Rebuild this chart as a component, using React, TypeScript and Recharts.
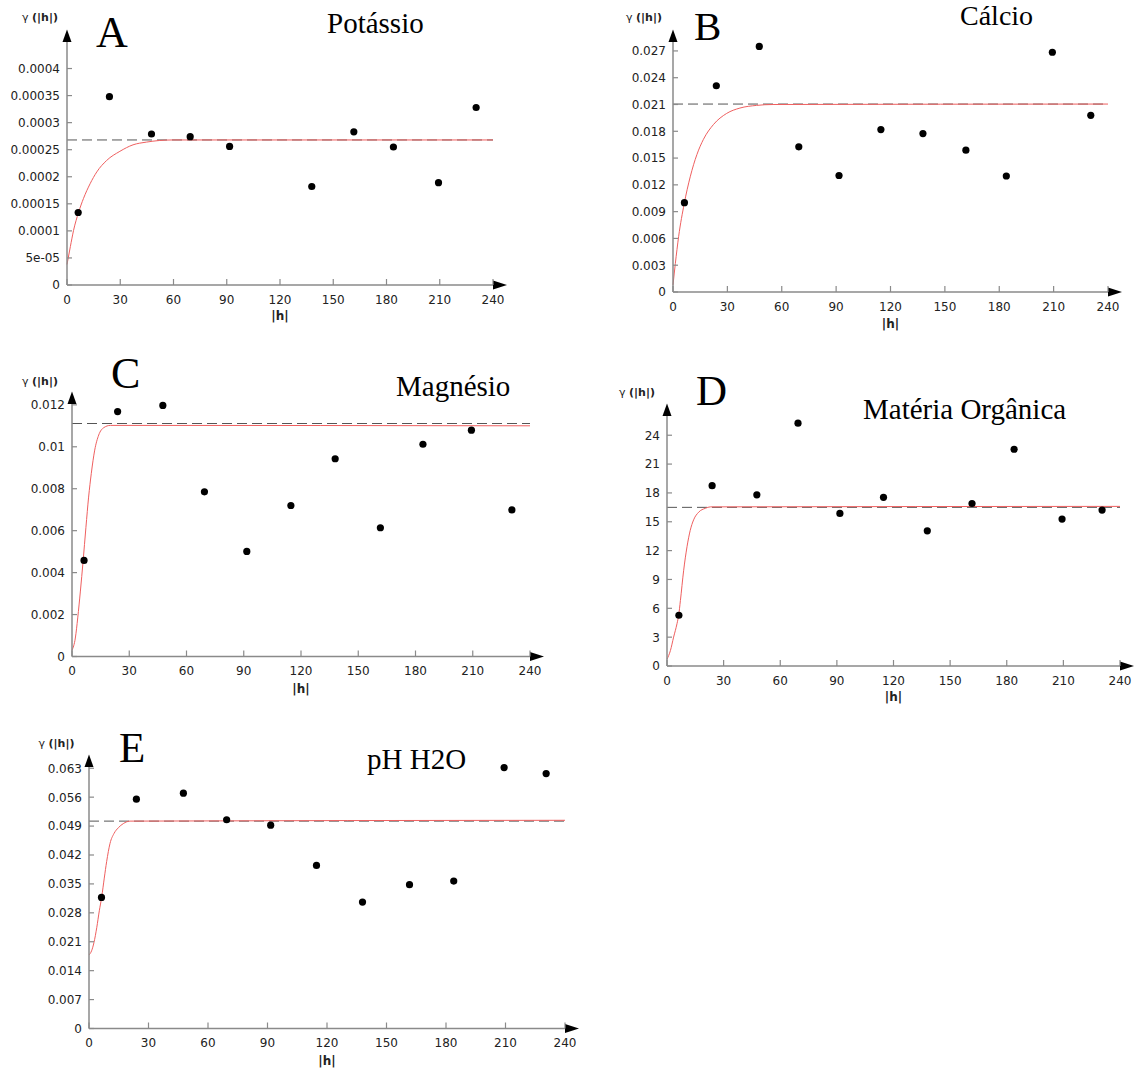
import { ComposedChart, Line, ReferenceDot, ReferenceLine, Scatter, XAxis, YAxis } from "recharts";

// lag classes (m) shared by every semivariogram
const LAGS = [6.3, 23.9, 47.6, 69.4, 91.6, 114.7, 137.9, 161.6, 183.9, 209.3, 230.5];
const H_TICKS = [0, 30, 60, 90, 120, 150, 180, 210, 240];

// Potássio
const K_GAMMA = [0.000134, 0.000348, 0.000279, 0.000274, 0.000256, null, 0.000182, 0.000283, 0.000255, 0.000189, 0.000328];
const K_SILL = 0.000268;
const K_MODEL: [number, number][] = [
  [0, 0.000038], [1.9, 0.000071], [3.7, 0.000101], [6.5, 0.000134], [9.3, 0.00016], [13, 0.000187],
  [16.8, 0.000209], [22.3, 0.00023], [29.8, 0.000247], [37.2, 0.000259], [44.7, 0.000264],
  [52.1, 0.000267], [59.6, 0.000268], [240, 0.000268],
];
const K_TICKS = [0, 0.00005, 0.0001, 0.00015, 0.0002, 0.00025, 0.0003, 0.00035, 0.0004];
const K_TICK_LABELS = ["0", "5e-05", "0.0001", "0.00015", "0.0002", "0.00025", "0.0003", "0.00035", "0.0004"];

// Cálcio
const CA_GAMMA = [0.01, 0.0231, 0.0275, 0.01626, 0.01305, 0.01819, 0.01774, 0.01589, 0.01299, 0.02685, 0.01979];
const CA_SILL = 0.02105;
const CA_MODEL: [number, number][] = [
  [0, 0.0008], [1.3, 0.0032], [3.1, 0.0062], [6.2, 0.0099], [9.5, 0.0129], [13.2, 0.0154],
  [16.8, 0.0171], [22.3, 0.01875], [29.6, 0.02], [36.9, 0.0206], [46.1, 0.0209], [55.2, 0.021],
  [240, 0.02105],
];
const CA_TICKS = [0, 0.003, 0.006, 0.009, 0.012, 0.015, 0.018, 0.021, 0.024, 0.027];
const CA_TICK_LABELS = ["0", "0.003", "0.006", "0.009", "0.012", "0.015", "0.018", "0.021", "0.024", "0.027"];

// Magnésio
const MG_GAMMA = [0.00458, 0.01168, 0.01197, 0.00785, 0.00501, 0.0072, 0.00943, 0.00614, 0.01012, 0.01079, 0.00699];
const MG_SILL = 0.01111;
const MG_MODEL: [number, number][] = [
  [0, 0.0003], [1.75, 0.00088], [3, 0.00184], [4.4, 0.00312], [5.8, 0.00453], [7.3, 0.00616],
  [8.7, 0.0076], [10.1, 0.00872], [11.9, 0.00984], [14, 0.01056], [16.6, 0.01091], [20.1, 0.01102],
  [240, 0.011],
];
const MG_TICKS = [0, 0.002, 0.004, 0.006, 0.008, 0.01, 0.012];
const MG_TICK_LABELS = ["0", "0.002", "0.004", "0.006", "0.008", "0.01", "0.012"];

// Matéria Orgânica
const MO_GAMMA = [5.28, 18.75, 17.8, 25.25, 15.87, 17.54, 14.06, 16.9, 22.54, 15.28, 16.22];
const MO_SILL = 16.5;
const MO_MODEL: [number, number][] = [
  [0, 0.7], [1.8, 1.6], [3.5, 3.0], [5.3, 4.4], [6.2, 5.3], [7.1, 6.8], [8.8, 9.9], [10.6, 12.4],
  [12.3, 14.1], [14.1, 15.2], [16.8, 16.0], [20.3, 16.4], [23, 16.55], [240, 16.6],
];
const MO_TICKS = [0, 3, 6, 9, 12, 15, 18, 21, 24];
const MO_TICK_LABELS = ["0", "3", "6", "9", "12", "15", "18", "21", "24"];

// pH H2O
const PH_GAMMA = [0.03174, 0.0555, 0.05696, 0.05053, 0.04922, 0.03948, 0.0306, 0.03481, 0.03568, 0.06317, 0.06172];
const PH_SILL = 0.0502;
const PH_MODEL: [number, number][] = [
  [0, 0.0178], [1.3, 0.0188], [2.5, 0.0208], [3.9, 0.0244], [5.2, 0.0285], [6.4, 0.0318],
  [7.7, 0.0364], [8.9, 0.0404], [10.6, 0.0448], [12.6, 0.0472], [14.8, 0.0486], [17.3, 0.0496],
  [20.7, 0.0502], [240, 0.0504],
];
const PH_TICKS = [0, 0.007, 0.014, 0.021, 0.028, 0.035, 0.042, 0.049, 0.056, 0.063];
const PH_TICK_LABELS = ["0", "0.007", "0.014", "0.021", "0.028", "0.035", "0.042", "0.049", "0.056", "0.063"];

const AXIS = "#8a8a8a";
const INK = "#222";
const MODEL_RED = "#ef5f5f";
const SANS = "DejaVu Sans";
const SERIF = "Liberation Serif";

const AXW = 70; // room left of the plot for the y labels
const AXH = 40; // room under the plot for the x labels
const TOP = 20;
const RIGHT = 20;

interface Frame {
  x0: number;
  x1: number;
  yTop: number;
  yBottom: number;
  letterX: number;
  letterY: number;
  letterSize: number;
  titleX: number;
  titleY: number;
  titleSize: number;
  gammaX: number;
  gammaY: number;
  hY: number;
}

interface PanelProps {
  letter: string;
  title: string;
  gamma: (number | null)[];
  model: [number, number][];
  sill: number;
  ticks: number[];
  tickLabels: string[];
  yMax: number;
  frame: Frame;
}

// ticks point into the plot, labels sit outside
const XTick = ({ x, y, payload }: any) => (
  <g>
    <line x1={x} x2={x} y1={y} y2={y - 6} stroke={AXIS} strokeWidth={1.2} />
    <text x={x} y={y + 18.5} textAnchor="middle" fontSize={12} fontFamily={SANS} fill={INK}>
      {payload.value}
    </text>
  </g>
);

const makeYTick = (ticks: number[], labels: string[]) => ({ x, y, payload }: any) => (
  <g>
    <line x1={x} x2={x + 5} y1={y} y2={y} stroke={AXIS} strokeWidth={1.2} />
    <text x={x - 7} y={y + 4.4} textAnchor="end" fontSize={12} fontFamily={SANS} fill={INK}>
      {labels[ticks.indexOf(payload.value)] ?? String(payload.value)}
    </text>
  </g>
);

const ArrowRight = ({ cx, cy }: any) => (
  <path d={`M${cx},${cy - 4.5} L${cx + 14},${cy} L${cx},${cy + 4.5} Z`} fill="#000" />
);

const ArrowUp = ({ cx, cy }: any) => (
  <path d={`M${cx - 4.5},${cy} L${cx},${cy - 12.5} L${cx + 4.5},${cy} Z`} fill="#000" />
);

const Dot = ({ cx, cy }: any) => <circle cx={cx} cy={cy} r={3.6} fill="#000" />;

function Panel({ letter, title, gamma, model, sill, ticks, tickLabels, yMax, frame: f }: PanelProps) {
  const points = LAGS.map((h, i) => ({ h, g: gamma[i] })).filter((d) => d.g != null);
  const curve = model.map(([h, g]) => ({ h, g }));
  const width = f.x1 - f.x0 + AXW + RIGHT;
  const height = f.yBottom - f.yTop + TOP + AXH;

  return (
    <>
      <div style={{ position: "absolute", left: f.x0 - AXW, top: f.yTop - TOP }}>
        <ComposedChart width={width} height={height} margin={{ top: TOP, right: RIGHT, bottom: 0, left: 0 }}>
          <XAxis
            type="number"
            dataKey="h"
            domain={[0, 240]}
            ticks={H_TICKS}
            interval={0}
            height={AXH}
            tickLine={false}
            tickSize={0}
            tickMargin={0}
            tick={XTick}
            axisLine={{ stroke: AXIS, strokeWidth: 1.5 }}
          />
          <YAxis
            type="number"
            dataKey="g"
            domain={[0, yMax]}
            ticks={ticks}
            interval={0}
            width={AXW}
            tickLine={false}
            tickSize={0}
            tickMargin={0}
            tick={makeYTick(ticks, tickLabels)}
            axisLine={{ stroke: AXIS, strokeWidth: 1.5 }}
          />
          <ReferenceLine y={sill} stroke="#555" strokeWidth={1} strokeDasharray="10 5" ifOverflow="visible" />
          <Line
            data={curve}
            dataKey="g"
            type="monotone"
            stroke={MODEL_RED}
            strokeWidth={1}
            dot={false}
            activeDot={false}
            isAnimationActive={false}
          />
          <Scatter data={points} dataKey="g" shape={Dot} isAnimationActive={false} />
          <ReferenceDot x={240} y={0} r={0} shape={ArrowRight} ifOverflow="visible" />
          <ReferenceDot x={0} y={yMax} r={0} shape={ArrowUp} ifOverflow="visible" />
        </ComposedChart>
      </div>
      <svg width={1137} height={1069} style={{ position: "absolute", left: 0, top: 0, pointerEvents: "none" }}>
        <text x={f.letterX} y={f.letterY} fontFamily={SERIF} fontSize={f.letterSize} fill="#000">
          {letter}
        </text>
        <text x={f.titleX} y={f.titleY} fontFamily={SERIF} fontSize={f.titleSize} fill="#000">
          {title}
        </text>
        <text x={f.gammaX} y={f.gammaY} fontFamily={SANS} fontSize={11} fill={INK}>
          γ <tspan fontWeight="bold">(|h|)</tspan>
        </text>
        <text x={(f.x0 + f.x1) / 2} y={f.hY} textAnchor="middle" fontFamily={SANS} fontSize={12} fontWeight="bold" fill={INK}>
          |h|
        </text>
      </svg>
    </>
  );
}

export default function App() {
  return (
    <div style={{ position: "absolute", left: 0, top: 0, width: 1137, height: 1069, overflow: "hidden", background: "#fff" }}>
      <Panel
        letter="A"
        title="Potássio"
        gamma={K_GAMMA}
        model={K_MODEL}
        sill={K_SILL}
        ticks={K_TICKS}
        tickLabels={K_TICK_LABELS}
        yMax={0.000449}
        frame={{ x0: 67, x1: 493, yTop: 42, yBottom: 285, letterX: 96, letterY: 46.7, letterSize: 44, titleX: 327, titleY: 33.3, titleSize: 29, gammaX: 22, gammaY: 21, hY: 320 }}
      />
      <Panel
        letter="B"
        title="Cálcio"
        gamma={CA_GAMMA}
        model={CA_MODEL}
        sill={CA_SILL}
        ticks={CA_TICKS}
        tickLabels={CA_TICK_LABELS}
        yMax={0.028}
        frame={{ x0: 673, x1: 1108, yTop: 42, yBottom: 292, letterX: 694, letterY: 40, letterSize: 41, titleX: 960, titleY: 24.5, titleSize: 28, gammaX: 626, gammaY: 21, hY: 328 }}
      />
      <Panel
        letter="C"
        title="Magnésio"
        gamma={MG_GAMMA}
        model={MG_MODEL}
        sill={MG_SILL}
        ticks={MG_TICKS}
        tickLabels={MG_TICK_LABELS}
        yMax={0.01204}
        frame={{ x0: 72, x1: 530, yTop: 403.5, yBottom: 656, letterX: 111, letterY: 388, letterSize: 44, titleX: 396, titleY: 395.7, titleSize: 29, gammaX: 22, gammaY: 385, hY: 693 }}
      />
      <Panel
        letter="D"
        title="Matéria Orgânica"
        gamma={MO_GAMMA}
        model={MO_MODEL}
        sill={MO_SILL}
        ticks={MO_TICKS}
        tickLabels={MO_TICK_LABELS}
        yMax={26}
        frame={{ x0: 667, x1: 1120, yTop: 416, yBottom: 666, letterX: 696, letterY: 405, letterSize: 43, titleX: 863, titleY: 419, titleSize: 29, gammaX: 619, gammaY: 396, hY: 701 }}
      />
      <Panel
        letter="E"
        title="pH H2O"
        gamma={PH_GAMMA}
        model={PH_MODEL}
        sill={PH_SILL}
        ticks={PH_TICKS}
        tickLabels={PH_TICK_LABELS}
        yMax={0.0633}
        frame={{ x0: 89, x1: 565, yTop: 766.5, yBottom: 1028, letterX: 119, letterY: 761.7, letterSize: 43, titleX: 367, titleY: 769, titleSize: 29, gammaX: 38.5, gammaY: 746.5, hY: 1065 }}
      />
    </div>
  );
}
